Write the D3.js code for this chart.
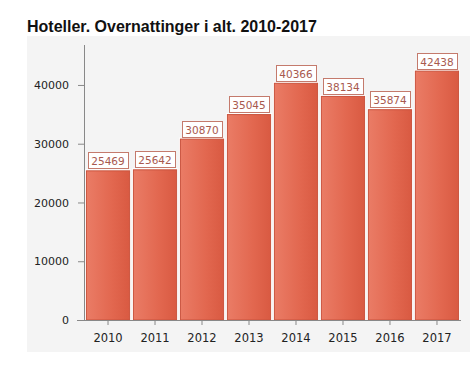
<!DOCTYPE html>
<html><head><meta charset="utf-8">
<script src="https://cdn.jsdelivr.net/npm/d3@7"></script>
<style>html,body{margin:0;padding:0;background:#fff;}svg{display:block;}</style>
</head><body>
<script>
const title = "Hoteller. Overnattinger i alt. 2010-2017";
const years = ["2010","2011","2012","2013","2014","2015","2016","2017"];
const values = [25469,25642,30870,35045,40366,38134,35874,42438];
const yTicks = [0,10000,20000,30000,40000];

const W = 470, H = 379;
const svg = d3.select("body").append("svg").attr("width", W).attr("height", H);
const defs = svg.append("defs");
const g = defs.append("linearGradient").attr("id","barg").attr("x1","0").attr("x2","1").attr("y1","0").attr("y2","0");
g.append("stop").attr("offset","0").attr("stop-color","#ea7c66");
g.append("stop").attr("offset","0.6").attr("stop-color","#e2674f");
g.append("stop").attr("offset","1").attr("stop-color","#d95a42");

svg.append("rect").attr("x",27).attr("y",36).attr("width",443).attr("height",316).attr("fill","#f4f4f4");

svg.append("text").attr("x",27).attr("y",32).text(title)
  .attr("font-family","Liberation Sans, Arial, sans-serif").attr("font-weight","bold").attr("font-size",16).attr("fill","#111");

const x = d3.scaleBand().domain(years).range([85,460]).paddingInner(0.06).paddingOuter(0.02);
const y = d3.scaleLinear().domain([0,46800]).range([320,45]);

const bars = svg.append("g");
years.forEach((yr,i)=>{
  const bx = x(yr), bw = x.bandwidth(), by = y(values[i]);
  bars.append("rect").attr("x",bx-1).attr("y",by-1).attr("width",bw+2).attr("height",y(0)-by+1).attr("fill","#fff");
  bars.append("rect").attr("x",bx+0.5).attr("y",by+0.5).attr("width",bw-1).attr("height",y(0)-by-0.5)
    .attr("fill","url(#barg)").attr("stroke","#c9533d").attr("stroke-width",1);
  const lw = 40, lh = 16;
  const lx = bx + bw/2 - lw/2, ly = by - 2 - lh;
  bars.append("rect").attr("x",Math.round(lx)+0.5).attr("y",Math.round(ly)+0.5).attr("width",lw).attr("height",lh)
    .attr("fill","#fff").attr("stroke","#c47a6c").attr("stroke-width",1);
  bars.append("text").attr("x",bx+bw/2).attr("y",Math.round(ly)+12.5).attr("text-anchor","middle")
    .attr("font-family","DejaVu Sans, sans-serif").attr("font-size",10.5).attr("fill","#a8594e").text(values[i]);
});

const yAxis = svg.append("g").attr("transform","translate(84,0)")
  .call(d3.axisLeft(y).tickValues(yTicks).tickSize(6).tickPadding(9).tickFormat(d3.format("d")));
yAxis.select(".domain").attr("d","M0.5,45V320.5").attr("stroke","#888");
yAxis.selectAll(".tick line").attr("stroke","#888");
yAxis.selectAll("text").attr("font-family","DejaVu Sans, sans-serif").attr("font-size",11).attr("fill","#222");

const xAxis = svg.append("g").attr("transform","translate(0,320)")
  .call(d3.axisBottom(x).tickSize(5).tickPadding(9));
xAxis.select(".domain").attr("d","M77,0.5H461").attr("stroke","#888");
xAxis.selectAll(".tick line").attr("stroke","#888");
xAxis.selectAll("text").attr("font-family","DejaVu Sans, sans-serif").attr("font-size",11.5).attr("fill","#222");
</script>
</body></html>
